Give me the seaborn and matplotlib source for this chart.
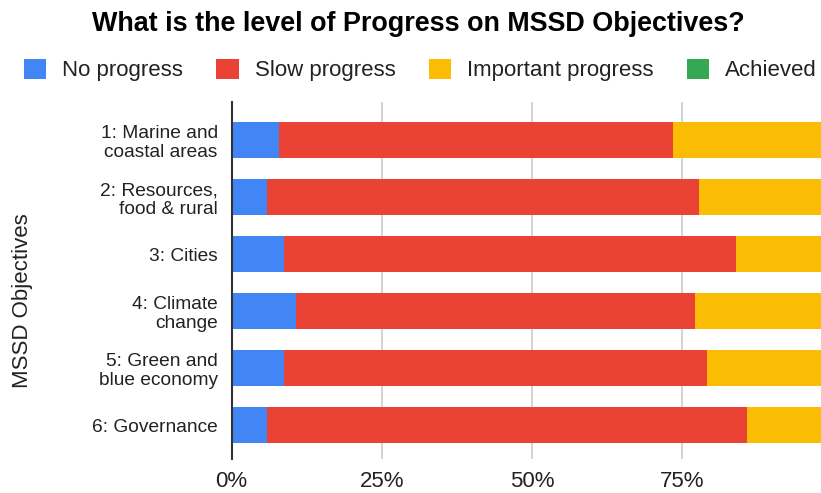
import pandas as pd
import numpy as np
import matplotlib
matplotlib.use("Agg")
import matplotlib.pyplot as plt
import seaborn as sns
from matplotlib.patches import Patch

# =============== DATA ===============
objectives = [
    "1: Marine and\ncoastal areas",
    "2: Resources,\nfood & rural",
    "3: Cities",
    "4: Climate\nchange",
    "5: Green and\nblue economy",
    "6: Governance",
]
no_progress = [7.9, 5.9, 8.8, 10.7, 8.7, 5.9]
slow_progress = [65.5, 71.9, 75.1, 66.5, 70.4, 79.9]
important_progress = [26.6, 22.2, 16.1, 22.8, 20.9, 14.2]
achieved = [0, 0, 0, 0, 0, 0]

series_names = ["No progress", "Slow progress", "Important progress", "Achieved"]
colors = ["#4285F4", "#EA4335", "#FBBC04", "#34A853"]
x_ticks = [0, 0.25, 0.5, 0.75]
x_tick_labels = ["0%", "25%", "50%", "75%"]

df = pd.DataFrame({
    "objective": objectives,
    "No progress": no_progress,
    "Slow progress": slow_progress,
    "Important progress": important_progress,
    "Achieved": achieved,
})
# cumulative shares (0..1) for stacking
cum = df[series_names].cumsum(axis=1) / 100.0
cum["objective"] = df["objective"]

# =============== STYLE ===============
sns.set_theme(style="white")
plt.rcParams["font.family"] = ["Liberation Sans", "DejaVu Sans"]
text_color = "#222222"

fig = plt.figure(figsize=(8.21, 4.93), dpi=100)
ax = fig.add_axes([0.282, 0.069, 0.718, 0.724])

# draw stacks from the outermost cumulative layer inward
for name, color in reversed(list(zip(series_names, colors))):
    sns.barplot(data=cum, x=name, y="objective", orient="h", color=color,
                width=0.63, saturation=1, edgecolor="none", ax=ax, zorder=2)

# =============== AXES ===============
ax.set_xlim(0, 0.981)
ax.set_ylim(5.59, -0.67)
ax.set_xticks(x_ticks)
ax.set_xticklabels(x_tick_labels)
ax.set_yticks(range(len(objectives)))
ax.set_yticklabels(objectives, multialignment="right", linespacing=1.1)
ax.grid(axis="x", color="#cccccc", linewidth=1.2, zorder=0)
ax.set_axisbelow(True)
ax.set_xlabel("")
ax.set_ylabel("")
for s in ["top", "right", "bottom"]:
    ax.spines[s].set_visible(False)
ax.spines["left"].set_color("#333333")
ax.spines["left"].set_linewidth(1.5)
ax.spines["left"].set_zorder(5)
ax.tick_params(axis="x", length=0, pad=9, labelsize=16, labelcolor=text_color)
ax.tick_params(axis="y", length=0, pad=10, labelsize=13.8, labelcolor=text_color)

fig.text(0.027, 0.391, "MSSD Objectives", rotation=90, ha="center", va="center",
         fontsize=16, color=text_color)

fig.text(0.51, 0.951, "What is the level of Progress on MSSD Objectives?",
         ha="center", va="center", fontsize=19.4, fontweight="bold", color="black")

handles = [Patch(facecolor=c, edgecolor="none") for c in colors]
fig.legend(handles, series_names, loc="center", bbox_to_anchor=(0.512, 0.858),
           ncol=4, frameon=False, fontsize=16, handlelength=1.0, handleheight=1.0,
           handletextpad=0.72, columnspacing=1.5, labelcolor=text_color)

plt.savefig("out.png", dpi=100)
